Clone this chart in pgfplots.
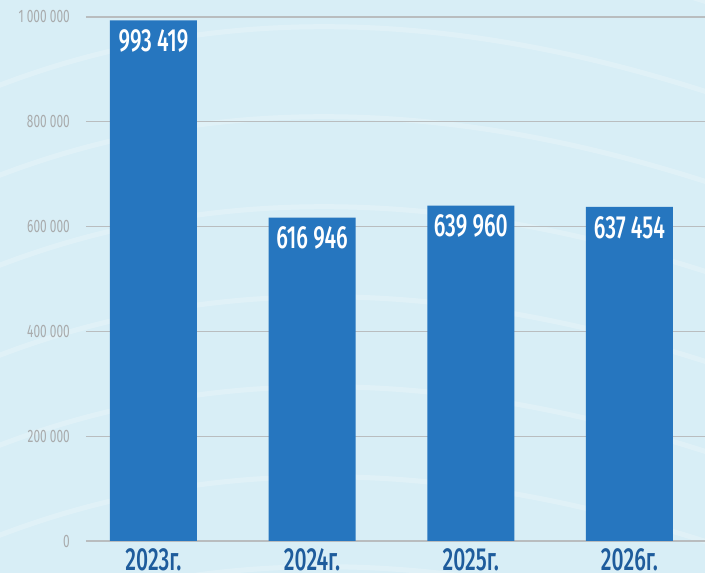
\documentclass[border=0pt]{standalone}
\usepackage{pgfplots}
\pgfplotsset{compat=1.18}
\usepackage{fontspec}
\newfontfamily\cond[FakeStretch=0.66]{Fira Sans Medium}
\newfontfamily\condr[FakeStretch=0.66]{Fira Sans}
\definecolor{bg}{HTML}{D8EEF6}
\definecolor{barblue}{HTML}{2676BF}
\definecolor{tickgray}{HTML}{A9ABAC}
\definecolor{gridgray}{HTML}{B9BDBF}
\definecolor{xlab}{HTML}{1E5C9C}
\begin{document}
\begin{tikzpicture}[x=1pt,y=1pt]
\fill[bg] (0,0) rectangle (705,573);
\path[use as bounding box] (0,0) rectangle (705,573);
\begin{scope}
\clip (0,0) rectangle (705,573);
\foreach \o in {-60,30,120,210,300,390,480,570} {
  \draw[white,opacity=0.22,line width=5pt] (-20,\o) .. controls (200,\o+90) and (450,\o+90) .. (740,\o-10);
}
\end{scope}
\begin{axis}[
  at={(86pt,32pt)}, anchor=south west,
  scale only axis, width=619pt, height=541pt,
  xmin=-0.425, xmax=3.476,
  ymin=0, ymax=1032443,
  ybar, bar width=0.548, bar shift=0pt,
  axis line style={draw=none},
  major tick length=0pt,
  ymajorgrids, grid style={gridgray, line width=1.2pt},
  ytick={0,200000,400000,600000,800000,1000000},
  yticklabels={0,200 000,400 000,600 000,800 000,1 000 000},
  yticklabel style={font=\condr\fontsize{18}{18}\selectfont, text=tickgray, inner sep=0pt, xshift=-16pt, anchor=east},
  xtick={0,1,2,3},
  xticklabels={2023г.,2024г.,2025г.,2026г.},
  xticklabel style={font=\cond\fontsize{32}{32}\selectfont, text=xlab, inner sep=0pt, yshift=-7pt, anchor=north},
  scaled y ticks=false,
  clip=false,
  nodes near coords,
  every node near coord/.append style={font=\cond\fontsize{32}{32}\selectfont, text=white, anchor=north, inner sep=0pt, yshift=-9pt},
  point meta=explicit symbolic,
]
\addplot[fill=barblue, draw=none] coordinates {
  (0,993419) [993 419]
  (1,616946) [616 946]
  (2,639960) [639 960]
  (3,637454) [637 454]
};
\end{axis}
\end{tikzpicture}
\end{document}
